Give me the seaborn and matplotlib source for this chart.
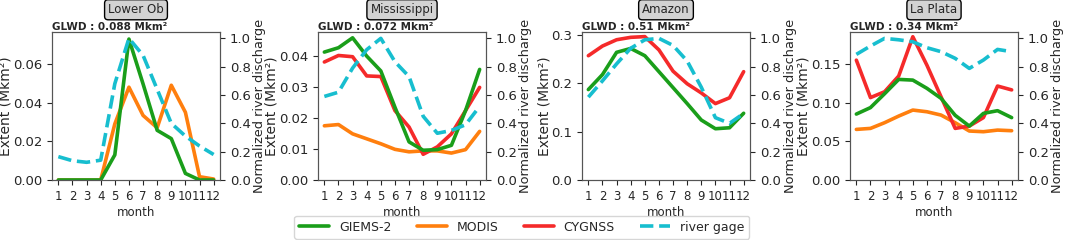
import numpy as np
import pandas as pd
import matplotlib
matplotlib.use("Agg")
import matplotlib.pyplot as plt
import seaborn as sns
from matplotlib.lines import Line2D

sns.set_style("ticks")
plt.rcParams['font.family'] = ['DejaVu Sans']

months = list(range(1, 13))
regions = ["Lower Ob", "Mississippi", "Amazon", "La Plata"]
glwd = ["GLWD : 0.088 Mkm\u00b2", "GLWD : 0.072 Mkm\u00b2", "GLWD : 0.51 Mkm\u00b2", "GLWD : 0.34 Mkm\u00b2"]

giems_ob = [0, 0, 0, 0, 0.013, 0.0729, 0.0497, 0.0257, 0.0214, 0.0034, 0, 0]
modis_ob = [0, 0, 0, 0, 0.029, 0.048, 0.0334, 0.027, 0.049, 0.035, 0.0017, 0.0005]
gage_ob = [0.165, 0.136, 0.125, 0.14, 0.68, 1.0, 0.88, 0.64, 0.40, 0.31, 0.24, 0.18]

giems_mi = [0.0413, 0.0427, 0.0459, 0.0400, 0.0352, 0.0235, 0.0123, 0.0096, 0.0098, 0.0112, 0.0224, 0.0357]
cygnss_mi = [0.0381, 0.0402, 0.0398, 0.0336, 0.0334, 0.0224, 0.0171, 0.0083, 0.0107, 0.0149, 0.0224, 0.0299]
modis_mi = [0.0175, 0.0179, 0.0149, 0.0133, 0.0117, 0.0099, 0.0091, 0.0094, 0.0094, 0.0087, 0.0098, 0.0157]
gage_mi = [0.59, 0.62, 0.79, 0.92, 1.0, 0.835, 0.73, 0.45, 0.33, 0.35, 0.39, 0.52]

giems_am = [0.187, 0.218, 0.264, 0.272, 0.257, 0.224, 0.191, 0.158, 0.124, 0.106, 0.108, 0.138]
cygnss_am = [0.257, 0.277, 0.290, 0.295, 0.2965, 0.269, 0.225, 0.199, 0.180, 0.158, 0.170, 0.224]
gage_am = [0.585, 0.70, 0.82, 0.93, 0.99, 1.0, 0.95, 0.84, 0.655, 0.44, 0.40, 0.47]

giems_lp = [0.0856, 0.094, 0.112, 0.1306, 0.1297, 0.119, 0.106, 0.084, 0.070, 0.0865, 0.090, 0.081]
cygnss_lp = [0.1556, 0.107, 0.1146, 0.135, 0.186, 0.149, 0.108, 0.067, 0.070, 0.081, 0.122, 0.117]
modis_lp = [0.0657, 0.067, 0.0744, 0.083, 0.0908, 0.0886, 0.0843, 0.0744, 0.0636, 0.0627, 0.0648, 0.064]
gage_lp = [0.887, 0.946, 1.0, 0.99, 0.976, 0.934, 0.906, 0.859, 0.788, 0.847, 0.922, 0.906]

data = [
    {"GIEMS-2": giems_ob, "MODIS": modis_ob, "gage": gage_ob},
    {"GIEMS-2": giems_mi, "MODIS": modis_mi, "CYGNSS": cygnss_mi, "gage": gage_mi},
    {"GIEMS-2": giems_am, "CYGNSS": cygnss_am, "gage": gage_am},
    {"GIEMS-2": giems_lp, "MODIS": modis_lp, "CYGNSS": cygnss_lp, "gage": gage_lp},
]

colors = {"GIEMS-2": "#1a9e1a", "MODIS": "#ff7f0e", "CYGNSS": "#f52a2a", "gage": "#17becf"}
lw = 2.6

fig = plt.figure(figsize=(10.65, 2.4), dpi=100)
lefts = [52, 318, 582, 850]
W, H = 1065, 240
for i, left in enumerate(lefts):
    ax = fig.add_axes([left / W, 60 / H, 168 / W, 148 / H])
    d = data[i]
    for key in ["MODIS", "CYGNSS", "GIEMS-2"]:
        if key in d:
            sns.lineplot(x=months, y=d[key], ax=ax, color=colors[key], lw=lw, legend=False)
    ax.set_ylim(bottom=0)
    ax.set_xlim(0.55, 12.45)
    ax.set_xticks(months)
    ax.set_xticklabels([str(m) for m in months], fontsize=8.5)
    ax.tick_params(axis='y', labelsize=9.5)
    ax.set_xlabel("month", fontsize=8.5, labelpad=2)
    ax.set_ylabel("Extent (Mkm\u00b2)", fontsize=10, labelpad=0)
    ax.set_title(regions[i], fontsize=8.5, pad=13.5,
                 bbox=dict(boxstyle="round,pad=0.3", facecolor="lightgray", edgecolor="black"))
    ax.text(0.0, 1.0, glwd[i], transform=ax.transAxes, fontsize=7.5, fontweight="bold",
            ha="left", va="bottom")
    ax2 = ax.twinx()
    sns.lineplot(x=months, y=d["gage"], ax=ax2, color=colors["gage"], lw=lw, legend=False)
    ax2.lines[0].set_linestyle("--")
    ax2.set_ylim(0, 1.045)
    ax2.set_yticks([0.0, 0.2, 0.4, 0.6, 0.8, 1.0])
    ax2.set_ylabel("Normalized river discharge", fontsize=9.3, labelpad=2)
    ax2.tick_params(axis='y', labelsize=9.5)
    for a in (ax, ax2):
        for s in a.spines.values():
            s.set_color("#555555")

handles = [Line2D([], [], color=colors["GIEMS-2"], lw=lw),
           Line2D([], [], color=colors["MODIS"], lw=lw),
           Line2D([], [], color=colors["CYGNSS"], lw=lw),
           Line2D([], [], color=colors["gage"], lw=lw, ls="--")]
fig.legend(handles, ["GIEMS-2", "MODIS", "CYGNSS", "river gage"], loc="lower center",
           bbox_to_anchor=(0.49, -0.02), ncol=4, fontsize=9, frameon=True,
           handlelength=2.4, borderpad=0.4)

fig.savefig("out.png", dpi=100)
